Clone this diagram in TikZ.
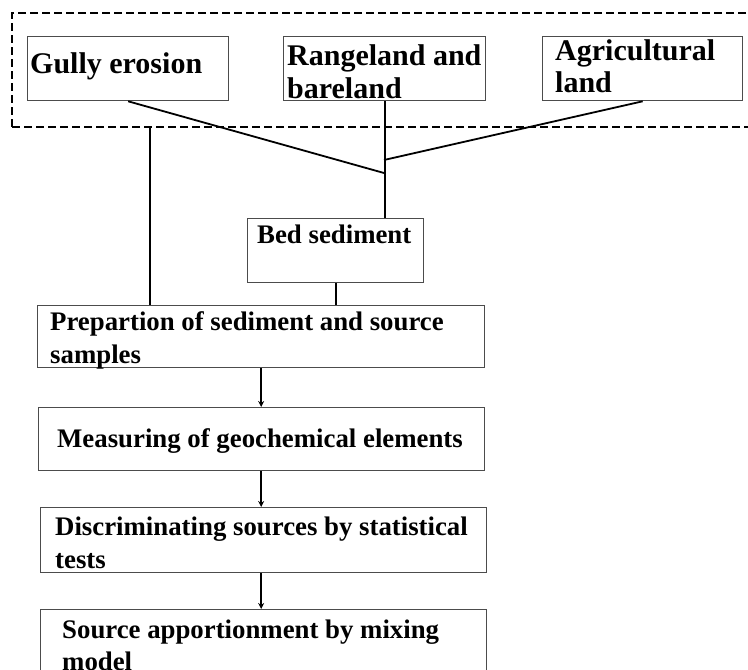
\documentclass[tikz,border=0pt]{standalone}
\usepackage{fontspec}
\setmainfont{Liberation Serif}
\usetikzlibrary{arrows.meta}
\begin{document}
\begin{tikzpicture}[x=1pt,y=-1pt,
  box/.style={draw=black!70,line width=1.3pt,inner sep=0pt,anchor=north west},
  big/.style={anchor=base west,inner sep=0pt,font=\fontsize{30}{33}\selectfont\bfseries},
  txt/.style={anchor=base west,inner sep=0pt,font=\fontsize{26.8}{33}\selectfont\bfseries},
  conn/.style={draw=black,line width=1.8pt},
  arr/.style={conn,-{Stealth[length=6pt,width=6pt]}},
  frame/.style={draw=black,line width=2.2pt,dash pattern=on 8pt off 4pt,inner sep=0pt,anchor=north west}
]
\useasboundingbox (0,0) rectangle (748,670);
\clip (0,0) rectangle (748,670);
\fill[white] (0,0) rectangle (748,670);
% dashed frame
\node[frame,minimum width=760pt,minimum height=114pt] (fr) at (11,12) {};
% top boxes
\node[box,minimum width=201pt,minimum height=64pt] (gully) at (27,36) {};
\node[box,minimum width=202pt,minimum height=64pt] (rang) at (283,36) {};
\node[box,minimum width=200pt,minimum height=64pt] (agri) at (542,36) {};
\node[big] (tg) at (30,73) {Gully erosion};
\node[big] (tr1) at (287,65) {Rangeland and};
\node[big] (tr2) at (287,98) {bareland};
\node[big] (ta1) at (555,60) {Agricultural};
\node[big] (ta2) at (555,92) {land};
% bed sediment
\node[box,minimum width=176pt,minimum height=64pt] (bed) at (247,218) {};
\node[txt] (tb) at (257,243) {Bed sediment};
% process boxes
\node[box,minimum width=447pt,minimum height=62pt] (prep) at (37,305) {};
\node[txt] (tp1) at (50,330) {Prepartion of sediment and source};
\node[txt] (tp2) at (50,363) {samples};
\node[box,minimum width=446pt,minimum height=63pt] (meas) at (38,407) {};
\node[txt] (tm) at (57,447) {Measuring of geochemical elements};
\node[box,minimum width=446pt,minimum height=65pt] (disc) at (40,507) {};
\node[txt] (td1) at (55,535) {Discriminating sources by statistical};
\node[txt] (td2) at (55,568) {tests};
\node[box,minimum width=446pt,minimum height=80pt] (src) at (40,609) {};
\node[txt] (ts1) at (62,638) {Source apportionment by mixing};
\node[txt] (ts2) at (62,670) {model};
% connectors
\coordinate (jg) at (384,173);
\coordinate (ja) at (384,160);
\coordinate (gv) at (150,126);
\draw[conn] (gully.south) -- (jg);
\draw[conn] (agri.south) -- (ja);
\draw[conn] (rang.south) -- (rang.south |- bed.north);
\draw[conn] (gv) -- (gv |- prep.north);
\draw[conn] (bed.south) -- (bed.south |- prep.north);
\draw[arr] (prep.south) -- (prep.south |- meas.north);
\draw[arr] (prep.south |- meas.south) -- (prep.south |- disc.north);
\draw[arr] (prep.south |- disc.south) -- (prep.south |- src.north);
\end{tikzpicture}
\end{document}
